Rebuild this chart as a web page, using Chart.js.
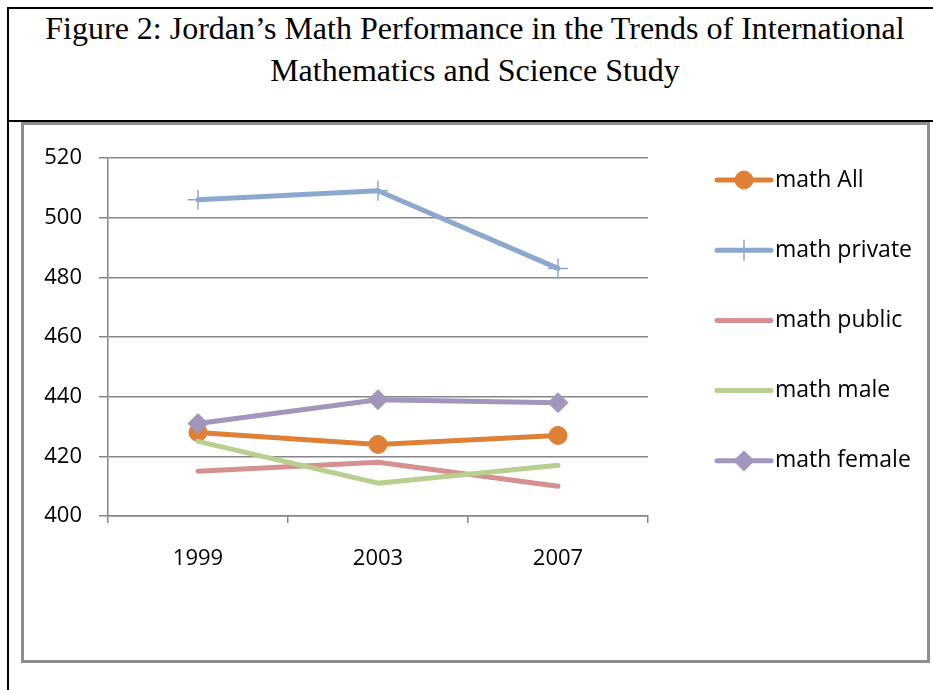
<!DOCTYPE html>
<html>
<head>
<meta charset="utf-8">
<script src="https://cdn.jsdelivr.net/npm/chart.js@4"></script>
<style>
  body { margin: 0; background: #fff; width: 933px; height: 690px; overflow: hidden; position: relative; }
  #frame { position: absolute; left: 7px; top: 7px; width: 940px; height: 700px; border-left: 2px solid #000; border-top: 2px solid #000; }
  #title { position: absolute; left: 9px; top: 7px; width: 932px; text-align: center;
           font-family: "Liberation Serif", "Times New Roman", serif; font-size: 32px; line-height: 42px; color: #000; }
  #rule { position: absolute; left: 7px; top: 120px; width: 940px; height: 2px; background: #000; }
  #box { position: absolute; left: 21px; top: 122px; width: 903px; height: 535px; border: 3px solid #8d8d8d; }
</style>
</head>
<body>
<div id="frame"></div>
<div id="title">Figure 2: Jordan’s Math Performance in the Trends of International<br>Mathematics and Science Study</div>
<div id="rule"></div>
<div id="box"><canvas id="chart" width="903" height="535"></canvas></div>
<script>
// data
const years = ['1999', '2003', '2007'];
const mathAll = [428, 424, 427];
const mathPrivate = [506, 509, 483];
const mathPublic = [415, 418, 410];
const mathMale = [425, 411, 417];
const mathFemale = [431, 439, 438];
const yTicks = [400, 420, 440, 460, 480, 500, 520];

const font = { family: '"Open Sans", sans-serif', size: 22 };
const legendFont = { family: '"Open Sans", sans-serif', size: 23 };
const gridColor = '#868686';

function series(label, data, color, style, radius, order) {
  return {
    label: label,
    data: data,
    borderColor: color,
    backgroundColor: color,
    borderWidth: 5,
    borderCapStyle: 'round',
    borderJoinStyle: 'round',
    pointStyle: style,
    pointRadius: radius,
    pointBorderWidth: style === 'cross' ? 1.5 : 1,
    pointBorderColor: color,
    pointBackgroundColor: color,
    tension: 0,
    order: order
  };
}

// simple right-hand legend: line sample with marker, then the label
const sideLegend = {
  id: 'sideLegend',
  afterDraw(chart) {
    const ctx = chart.ctx;
    const area = chart.chartArea;
    ctx.save();
    chart.data.datasets.forEach((ds, i) => {
      const y = area.top + 22 + i * 70.2;
      const x0 = area.right + 69, x1 = area.right + 123;
      ctx.strokeStyle = ds.borderColor;
      ctx.lineWidth = 5;
      ctx.lineCap = 'round';
      ctx.beginPath();
      ctx.moveTo(x0, y);
      ctx.lineTo(x1, y);
      ctx.stroke();
      if (ds.pointRadius > 0) {
        ctx.fillStyle = ds.pointBackgroundColor;
        ctx.strokeStyle = ds.pointBorderColor;
        ctx.lineWidth = ds.pointBorderWidth;
        Chart.helpers.drawPoint(ctx, { pointStyle: ds.pointStyle, radius: ds.pointRadius, rotation: 0, borderWidth: ds.pointBorderWidth }, (x0 + x1) / 2, y);
      }
      ctx.fillStyle = '#000';
      ctx.font = legendFont.size + 'px ' + legendFont.family;
      ctx.textBaseline = 'middle';
      ctx.textAlign = 'left';
      ctx.fillText(ds.label, x1 + 4, y);
    });
    ctx.restore();
  }
};

const ctx = document.getElementById('chart').getContext('2d');
new Chart(ctx, {
  type: 'line',
  data: {
    labels: years,
    datasets: [
      series('math All', mathAll, '#de8035', 'circle', 9, 5),
      series('math private', mathPrivate, '#8da8cf', 'cross', 10, 4),
      series('math public', mathPublic, '#d49190', 'circle', 0, 3),
      series('math male', mathMale, '#b8cf8f', 'circle', 0, 2),
      series('math female', mathFemale, '#a396bd', 'rectRot', 10, 1)
    ]
  },
  options: {
    responsive: false,
    animation: false,
    layout: { padding: { top: 33, right: 279, left: 0, bottom: 0 } },
    plugins: {
      legend: { display: false },
      tooltip: { enabled: false }
    },
    scales: {
      x: {
        offset: true,
        grid: { offset: true, drawOnChartArea: false, drawTicks: true, tickLength: 7, color: gridColor, lineWidth: 1.5 },
        border: { display: true, color: gridColor, width: 1.5 },
        ticks: { font: font, color: '#000', padding: 23, maxRotation: 0 },
        afterFit: s => { s.height = 144; }
      },
      y: {
        min: yTicks[0],
        max: yTicks[yTicks.length - 1],
        afterBuildTicks: s => { s.ticks = yTicks.map(v => ({ value: v })); },
        grid: { color: gridColor, lineWidth: 1.5, tickLength: 9 },
        border: { display: true, color: gridColor, width: 1.5 },
        ticks: { font: font, color: '#000', padding: 17 },
        afterFit: s => { s.width = 84; }
      }
    }
  },
  plugins: [sideLegend]
});
</script>
</body>
</html>
